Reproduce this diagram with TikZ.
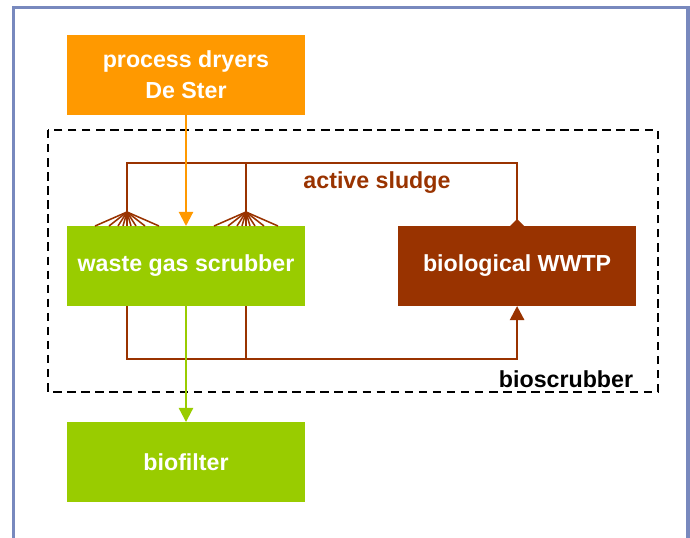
\documentclass[tikz,border=0pt]{standalone}
\usepackage{fontspec}
\setmainfont{Liberation Sans}
\usetikzlibrary{arrows.meta,positioning}
\definecolor{dryorange}{HTML}{FF9900}
\definecolor{scrubgreen}{HTML}{99CC00}
\definecolor{sludgebrown}{HTML}{993300}
\definecolor{framegrey}{HTML}{7889BE}

\begin{document}
\begin{tikzpicture}[x=0.025cm,y=-0.025cm,>={Triangle[width=10pt,length=10pt]},
      unit/.style={minimum width=5.95cm,minimum height=2cm,inner sep=0pt,outer sep=0pt,
        text=white,align=center,font=\fontsize{16.5}{22}\selectfont\bfseries},
      sludge/.style={sludgebrown,line width=1.8pt},
      fan/.style={sludgebrown,line width=1.1pt},
      label/.style={font=\fontsize{16.5}{20}\selectfont\bfseries}]

    \useasboundingbox (0,0) rectangle (690,538);
    \clip (0,0) rectangle (690,538);
    \draw[framegrey,line width=2.2pt] (13.5,7.5) rectangle (688,600);

    \node[unit,fill=scrubgreen] (scrubber) at (186,266) {waste gas scrubber};
    \node[unit,fill=dryorange] (dryers) [above=2.775cm of scrubber] {process dryers\\De Ster};
    \node[unit,fill=scrubgreen] (biofilter) [below=2.9cm of scrubber] {biofilter};
    \node[unit,fill=sludgebrown] (wwtp) [right=2.325cm of scrubber] {biological WWTP};

    \draw[dashed,line width=1pt,dash pattern=on 6pt off 4pt] (48,130) rectangle (658,392);
    \node[label,text=sludgebrown] (sludgelbl) at (377,183) {active sludge};
    \node[label,anchor=east] (biolbl) at (638,379) {bioscrubber};

    % sludge to the sprinklers
    \coordinate (fanA) at (127,212);
    \coordinate (fanB) at (246,212);
    \draw[sludge] (fanA) |- (wwtp.north |- 0,163) -- (wwtp.north);
    \draw[sludge] (fanB) -- (fanB |- 0,163);
    \fill[sludgebrown] ([xshift=-5pt]wwtp.north) -- ([yshift=5pt]wwtp.north) -- ([xshift=5pt]wwtp.north) -- cycle;
    \foreach \d in {-32,-18,-9,-4,0,4,9,18,32} {
      \draw[fan] (fanA) -- ++(\d,14);
      \draw[fan] (fanB) -- ++(\d,14);
    }

    % sludge back to the WWTP
    \draw[sludge,->] (scrubber.south -| fanA) -- ++(0,53) -| (wwtp.south);
    \draw[sludge] (scrubber.south -| fanB) -- ++(0,53);

    % gas
    \draw[dryorange,line width=1.5pt,->] (dryers) -- (scrubber);
    \draw[scrubgreen,line width=1.5pt,->] (scrubber) -- (biofilter);

\end{tikzpicture}
\end{document}
